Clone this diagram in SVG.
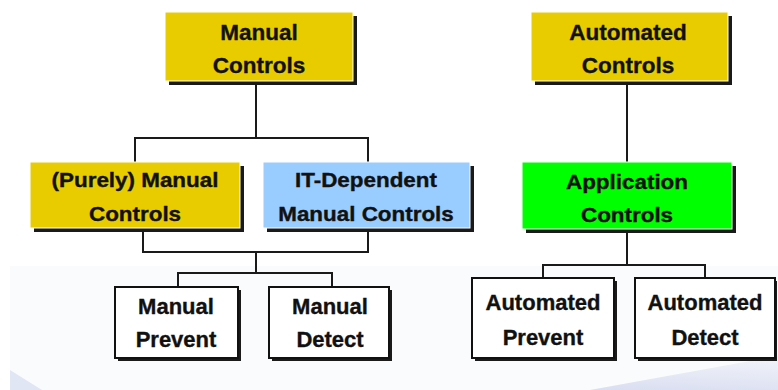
<svg xmlns="http://www.w3.org/2000/svg" width="778" height="390" viewBox="0 0 778 390">
  <defs>
    <style>
      .lbl { font-family: "Liberation Sans", Arial, sans-serif; font-weight: bold; fill: #111; stroke: #111; stroke-width: 0.35; text-anchor: middle; }
      .top { font-size: 22.5px; }
      .mid { font-size: 19.5px; }
      .bot { font-size: 22px; }
      .shadow { fill: #1a1a1a; }
      .yellow { fill: #e8cc00; stroke: #ffffff; stroke-width: 1; }
      .blue { fill: #99ccff; stroke: #ffffff; stroke-width: 1; }
      .green { fill: #00ff00; stroke: #ffffff; stroke-width: 1; }
      .leaf { fill: #ffffff; stroke: #111; stroke-width: 2; }
      .wire { fill: none; stroke: #1a1a1a; stroke-width: 2; }
    </style>
    <linearGradient id="swoosh" x1="0" y1="1" x2="0.2" y2="0">
      <stop offset="0" stop-color="#d9def1"/>
      <stop offset="1" stop-color="#f0f2f9"/>
    </linearGradient>
  </defs>

  <!-- slide background -->
  <rect width="778" height="390" fill="#ffffff"/>
  <rect x="10" y="266" width="768" height="124" fill="#fafbfd"/>
  <polygon points="10,370 42,390 10,390" fill="#e1e6f4"/>
  <polygon points="590,390 778,356 778,390" fill="url(#swoosh)"/>

  <!-- connectors -->
  <g id="connectors">
    <path class="wire" d="M256,82 V138 M135,138 H368 M135,137 V162 M368,137 V162"/>
    <path class="wire" d="M143,229 V252 H368 V229 M256,252 V273 M178,273 H332 M178,272 V287 M332,272 V287"/>
    <path class="wire" d="M627,82 V162"/>
    <path class="wire" d="M627,230 V265 M543,265 H705 M543,264 V278 M705,264 V278"/>
  </g>

  <g id="manual-controls">
    <rect class="shadow" x="169" y="16" width="188" height="69"/>
    <rect class="yellow" x="165" y="12" width="188" height="69"/>
    <text class="lbl top" x="259" y="40">Manual</text>
    <text class="lbl top" x="259" y="73">Controls</text>
  </g>

  <g id="automated-controls">
    <rect class="shadow" x="535" y="16" width="197" height="69"/>
    <rect class="yellow" x="531" y="12" width="197" height="69"/>
    <text class="lbl top" x="628" y="40">Automated</text>
    <text class="lbl top" x="628" y="73">Controls</text>
  </g>

  <g id="purely-manual-controls">
    <rect class="shadow" x="34" y="166" width="210" height="66"/>
    <rect class="yellow" x="30" y="162" width="210" height="66"/>
    <text class="lbl mid" transform="translate(135,187) scale(1.15,1)">(Purely) Manual</text>
    <text class="lbl mid" transform="translate(135,221) scale(1.15,1)">Controls</text>
  </g>

  <g id="it-dependent-manual-controls">
    <rect class="shadow" x="267" y="166" width="207" height="66"/>
    <rect class="blue" x="263" y="162" width="207" height="66"/>
    <text class="lbl mid" transform="translate(366,187) scale(1.15,1)">IT-Dependent</text>
    <text class="lbl mid" transform="translate(366,221) scale(1.15,1)">Manual Controls</text>
  </g>

  <g id="application-controls">
    <rect class="shadow" x="526" y="166" width="210" height="67"/>
    <rect class="green" x="522" y="162" width="210" height="67"/>
    <text class="lbl mid" transform="translate(627,189) scale(1.15,1)">Application</text>
    <text class="lbl mid" transform="translate(627,222) scale(1.15,1)">Controls</text>
  </g>

  <g id="manual-prevent">
    <rect class="shadow" x="118" y="290" width="123" height="71"/>
    <rect class="leaf" x="115" y="287" width="123" height="71"/>
    <text class="lbl bot" x="176" y="314">Manual</text>
    <text class="lbl bot" x="176" y="347">Prevent</text>
  </g>

  <g id="manual-detect">
    <rect class="shadow" x="272" y="290" width="120" height="71"/>
    <rect class="leaf" x="269" y="287" width="120" height="71"/>
    <text class="lbl bot" x="330" y="314">Manual</text>
    <text class="lbl bot" x="330" y="347">Detect</text>
  </g>

  <g id="automated-prevent">
    <rect class="shadow" x="475" y="281" width="142" height="80"/>
    <rect class="leaf" x="472" y="278" width="142" height="80"/>
    <text class="lbl bot" x="543" y="310">Automated</text>
    <text class="lbl bot" x="543" y="345">Prevent</text>
  </g>

  <g id="automated-detect">
    <rect class="shadow" x="638" y="281" width="139" height="80"/>
    <rect class="leaf" x="635" y="278" width="140" height="80"/>
    <text class="lbl bot" x="705" y="310">Automated</text>
    <text class="lbl bot" x="705" y="345">Detect</text>
  </g>
</svg>
